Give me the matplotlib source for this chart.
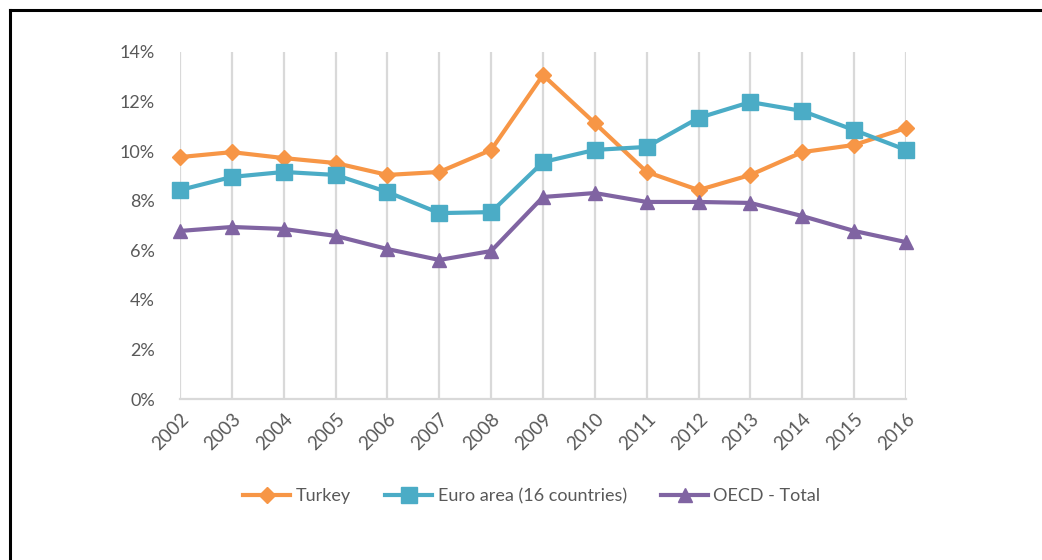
import matplotlib
matplotlib.use("Agg")
import matplotlib.pyplot as plt
from matplotlib.lines import Line2D
from matplotlib.ticker import FuncFormatter

years = ["2002", "2003", "2004", "2005", "2006", "2007", "2008", "2009",
         "2010", "2011", "2012", "2013", "2014", "2015", "2016"]
turkey = [9.76, 9.96, 9.72, 9.52, 9.04, 9.16, 10.05, 13.07, 11.13, 9.16,
          8.43, 9.04, 9.96, 10.25, 10.93]
euro_area = [8.43, 8.96, 9.16, 9.04, 8.35, 7.50, 7.54, 9.56, 10.05, 10.17,
             11.34, 11.98, 11.62, 10.85, 10.05]
oecd_total = [6.78, 6.94, 6.86, 6.58, 6.05, 5.61, 5.97, 8.15, 8.31, 7.95,
              7.95, 7.91, 7.38, 6.78, 6.33]
series_names = ["Turkey", "Euro area (16 countries)", "OECD - Total"]
y_ticks = [0, 2, 4, 6, 8, 10, 12, 14]

plt.rcParams['font.family'] = ['Lato', 'DejaVu Sans']

fig = plt.figure(figsize=(10.42, 5.6), dpi=100)
ax = fig.add_axes([180/1042, 1-399/560, (906-180)/1042, (399-52)/560])

colors = ["#F79646", "#4BACC6", "#8064A2"]
markers = ["D", "s", "^"]
msizes = [8.5, 11, 10]
x = list(range(len(years)))
for vals, c, m, ms, name in zip([turkey, euro_area, oecd_total], colors, markers, msizes, series_names):
    ax.plot(x, vals, color=c, lw=3, marker=m, markersize=ms, label=name,
            clip_on=False, zorder=3)

ax.set_xlim(0, len(years) - 1)
ax.set_ylim(0, 14)
ax.set_yticks(y_ticks)
ax.yaxis.set_major_formatter(FuncFormatter(lambda v, p: f"{int(v)}%"))
ax.set_xticks(x)
ax.set_xticklabels(years, rotation=45, ha="right", rotation_mode="anchor",
                   fontsize=13.5)
ax.grid(axis="x", color="#D9D9D9", lw=1.6)
ax.set_axisbelow(True)
for s in ["top", "right", "left"]:
    ax.spines[s].set_visible(False)
ax.spines["bottom"].set_color("#D9D9D9")
ax.spines["bottom"].set_linewidth(1.6)
ax.tick_params(axis="both", length=0, colors="#595959")
ax.tick_params(axis="y", pad=18, labelsize=13)
ax.tick_params(axis="x", pad=8)

leg = fig.legend(loc="center", bbox_to_anchor=(532/1042, 1-496/560), ncol=3,
                 frameon=False, fontsize=13, handlelength=2.6,
                 columnspacing=1.9, handletextpad=0.3)
for t in leg.get_texts():
    t.set_color("#595959")

# outer frame (top and left edges)
fig.add_artist(Line2D([10/1042, 10/1042], [0, 1-10/560], transform=fig.transFigure,
                      color="black", lw=2.2))
fig.add_artist(Line2D([10/1042, 1], [1-10/560, 1-10/560], transform=fig.transFigure,
                      color="black", lw=2.2))

fig.savefig("out.png", dpi=100)
